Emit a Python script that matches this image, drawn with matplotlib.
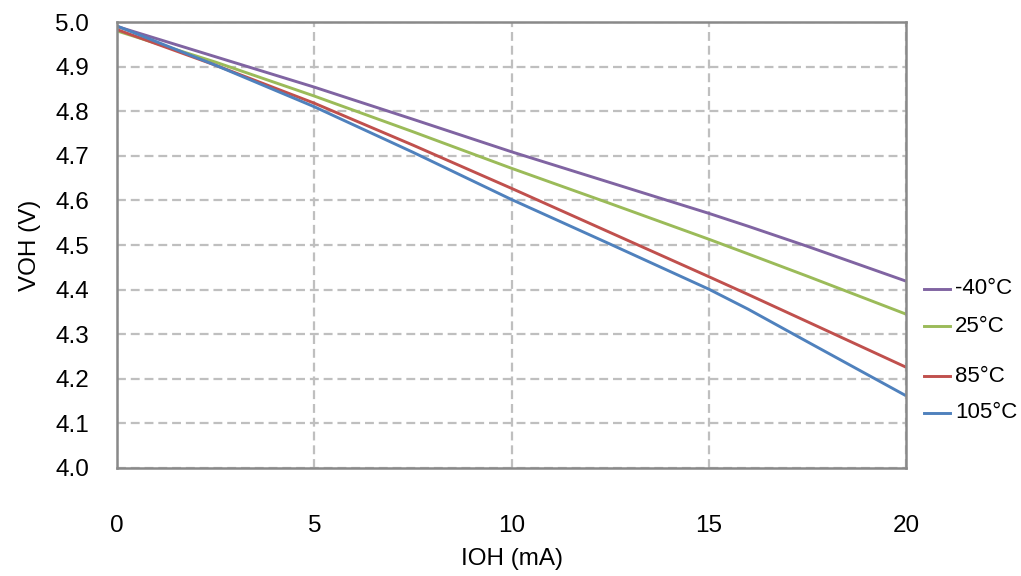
"""VOH vs IOH at four temperatures."""
import numpy as np
import matplotlib
matplotlib.use('Agg')
import matplotlib.pyplot as plt
from matplotlib.lines import Line2D

plt.rcParams['font.family'] = ['Liberation Sans', 'DejaVu Sans']

# ── data ──
ioh = [0, 2.5, 5, 7.5, 10, 12.5, 15, 16, 17.5, 20]
voh_m40 = [4.990, 4.922, 4.854, 4.782, 4.709, 4.640, 4.571, 4.542, 4.497, 4.419]
voh_25 = [4.980, 4.910, 4.834, 4.754, 4.672, 4.593, 4.513, 4.480, 4.430, 4.345]
voh_85 = [4.983, 4.903, 4.818, 4.724, 4.627, 4.528, 4.429, 4.389, 4.328, 4.226]
voh_105 = [4.991, 4.903, 4.810, 4.708, 4.602, 4.502, 4.401, 4.356, 4.283, 4.162]

labels = ['-40°C', '25°C', '85°C', '105°C']
colors = ['#8064A2', '#9BBB59', '#C0504D', '#4F81BD']
series = [voh_m40, voh_25, voh_85, voh_105]

x_ticks = [0, 5, 10, 15, 20]
y_ticks = np.round(np.arange(4.0, 5.01, 0.1), 1)


def main():
    fig = plt.figure(figsize=(10.21, 5.76), dpi=100)
    ax = fig.add_axes([0.1146, 0.1875, 0.7728, 0.7743])

    for y, c in zip(series, colors):
        ax.plot(ioh, y, color=c, lw=2.1, solid_capstyle='butt')

    ax.set_xlim(0, 20)
    ax.set_ylim(4.0, 5.0)
    ax.set_xticks(x_ticks)
    ax.set_yticks(y_ticks)
    ax.set_yticklabels([f'{v:.1f}' for v in y_ticks])
    ax.tick_params(axis='both', length=0, labelsize=17.5)
    ax.tick_params(axis='x', pad=34)
    ax.tick_params(axis='y', pad=20)

    ax.grid(True, color='#BFBFBF', ls=(0, (4, 2.2)), lw=1.6)
    ax.set_axisbelow(True)
    for sp in ax.spines.values():
        sp.set_color('#898989')
        sp.set_linewidth(1.8)

    ax.set_xlabel('IOH (mA)', fontsize=17.5, labelpad=8)
    ax.set_ylabel('VOH (V)', fontsize=17.5, labelpad=10)

    # manual legend (uneven spacing as in the reference)
    leg_y = [289, 326, 376, 413]
    for lab, c, yp in zip(labels, colors, leg_y):
        yf = 1 - yp / 576
        fig.add_artist(Line2D([924 / 1021, 950 / 1021], [yf, yf],
                              color=c, lw=2.1))
        fig.text(955 / 1021, yf, lab, fontsize=16, va='center', ha='left')

    fig.savefig('out.png', dpi=100)
    plt.close(fig)


if __name__ == '__main__':
    main()
